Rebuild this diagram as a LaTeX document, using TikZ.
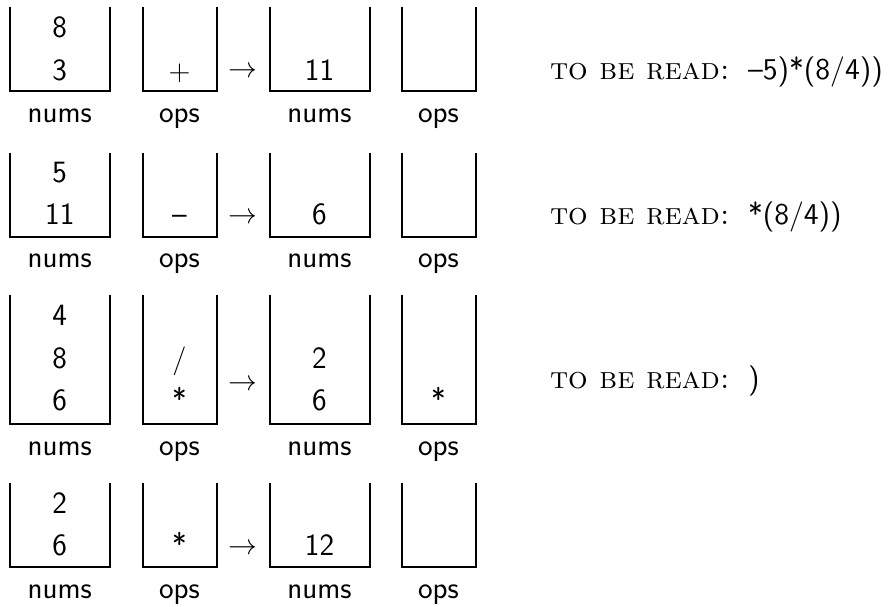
\documentclass[tikz,border=0pt]{standalone}
\usepackage{fontspec}
\begin{document}
\begin{tikzpicture}[x=0.5pt,y=-0.5pt,
  every node/.style={inner sep=0pt,outer sep=0pt},
  sans/.style={font=\fontsize{15.5}{18}\selectfont\sffamily},
  entry/.style={sans,anchor=base},
  caption/.style={sans,anchor=base},
  numsbox/.style={minimum width=50pt},
  opsbox/.style={minimum width=37pt},
  short/.style={minimum height=42pt},
  tall/.style={minimum height=64.5pt},
  wall/.style={line width=1pt,line join=miter},
  push/.style={anchor=base,font=\fontsize{15.5}{18}\selectfont},
  pending/.style={anchor=base west,font=\fontsize{15.4}{18}\selectfont\scshape},
  rest/.style={anchor=base west,font=\fontsize{15.1}{18}\selectfont\sffamily}
]
\useasboundingbox (0,0) rectangle (892,606);

% ---- stacks: four per step (nums, ops before; nums, ops after)
\node[numsbox,short] (a1) at (59.75,49) {};
\node[opsbox,short]  (b1) at (179.5,49) {};
\node[numsbox,short] (c1) at (319.5,49) {};
\node[opsbox,short]  (d1) at (438.5,49) {};

\node[numsbox,short] (a2) at (59.75,194.5) {};
\node[opsbox,short]  (b2) at (179.5,194.5) {};
\node[numsbox,short] (c2) at (319.5,194.5) {};
\node[opsbox,short]  (d2) at (438.5,194.5) {};

\node[numsbox,tall] (a3) at (59.75,359.5) {};
\node[opsbox,tall]  (b3) at (179.5,359.5) {};
\node[numsbox,tall] (c3) at (319.5,359.5) {};
\node[opsbox,tall]  (d3) at (438.5,359.5) {};

\node[numsbox,short] (a4) at (59.75,525) {};
\node[opsbox,short]  (b4) at (179.5,525) {};
\node[numsbox,short] (c4) at (319.5,525) {};
\node[opsbox,short]  (d4) at (438.5,525) {};

% open-top walls of every stack
\foreach \s in {a1,b1,c1,d1,a2,b2,c2,d2,a3,b3,c3,d3,a4,b4,c4,d4}
  \draw[wall] (\s.north west) -- (\s.south west) -- (\s.south east) -- (\s.north east);

% ---- step 1
\node[entry] (a1p) at (59.75,37) {8};
\node[entry] (a1q) at (59.75,80) {3};
\node[entry] (b1q) at (179.5,80) {$+$};
\node[push]  (s1)  at (242.5,77) {$\rightarrow$};
\node[entry] (c1q) at (319.5,80) {11};

% ---- step 2
\node[entry] (a2p) at (59.75,182) {5};
\node[entry] (a2q) at (59.75,224) {11};
\node[entry] (b2q) at (179.5,224) {\textendash};
\node[push]  (s2)  at (242.5,223) {$\rightarrow$};
\node[entry] (c2q) at (319.5,224) {6};

% ---- step 3
\node[entry] (a3p) at (59.75,325) {4};
\node[entry] (a3q) at (59.75,368) {8};
\node[entry] (a3r) at (59.75,410) {6};
\node[entry] (b3q) at (179.5,368) {$/$};
\node[entry] (b3r) at (179.5,410) {*};
\node[push]  (s3)  at (242.5,390) {$\rightarrow$};
\node[entry] (c3q) at (319.5,368) {2};
\node[entry] (c3r) at (319.5,410) {6};
\node[entry] (d3r) at (438.5,410) {*};

% ---- step 4
\node[entry] (a4p) at (59.75,513) {2};
\node[entry] (a4q) at (59.75,555) {6};
\node[entry] (b4q) at (179.5,555) {*};
\node[push]  (s4)  at (242.5,554) {$\rightarrow$};
\node[entry] (c4q) at (319.5,555) {12};

% ---- captions under the stacks
\foreach \r/\y in {1/122,2/267,3/455,4/598} {
  \node[caption] (na\r) at (59.75,\y) {nums};
  \node[caption] (oa\r) at (179.5,\y) {ops};
  \node[caption] (nb\r) at (319.5,\y) {nums};
  \node[caption] (ob\r) at (438.5,\y) {ops};
}

% ---- remaining input
\node[pending] (t1) at (550,79.5)  {to be read:};
\node[rest]    (r1) at (748,79.5)  {\textendash5)*(8/4))};
\node[pending] (t2) at (550,224.5) {to be read:};
\node[rest]    (r2) at (748,224.5) {*(8/4))};
\node[pending] (t3) at (550,388.5) {to be read:};
\node[rest]    (r3) at (748,388.5) {)};
\end{tikzpicture}
\end{document}
